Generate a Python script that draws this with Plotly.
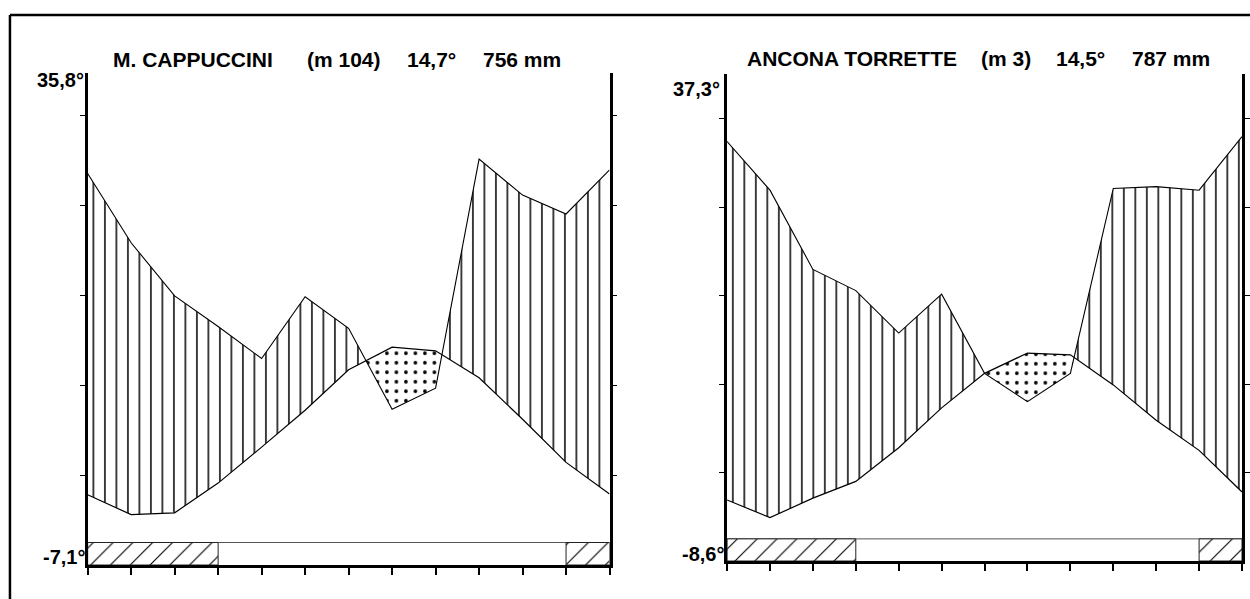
import plotly.graph_objects as go

W, H = 1250, 599

# ---- data (13 points: Jan ... Dec, Jan repeated) ----
month_pos = list(range(13))
temp_cappuccini = [7.8, 5.6, 5.8, 9.1, 13.1, 17.2, 21.7, 24.2, 23.8, 20.8, 16.2, 11.4, 7.9]
prec_cappuccini = [87.0, 71.6, 59.8, 53.0, 45.9, 59.6, 52.6, 34.6, 39.3, 90.2, 82.2, 78.0, 87.8]
temp_torrette = [6.9, 4.9, 7.1, 9.0, 12.8, 17.3, 21.2, 23.5, 23.3, 19.9, 15.9, 12.5, 7.8]
prec_torrette = [94.8, 83.8, 65.9, 61.1, 51.5, 60.3, 42.4, 36.0, 42.4, 84.2, 84.6, 83.8, 95.9]
frost_months = [0, 1, 2, 11]          # months with absolute minimum below 0
frost_band_height = 2.5
temp_ticks = [10, 20, 30, 40, 50]

titles = {
    "left": ["M. CAPPUCCINI", "(m 104)", "14,7°", "756 mm"],
    "right": ["ANCONA TORRETTE", "(m 3)", "14,5°", "787 mm"],
}
abs_max = {"left": "35,8°", "right": "37,3°"}
abs_min = {"left": "-7,1°", "right": "-8,6°"}


def split(x, t, p):
    xs, ts, ps = [x[0]], [t[0]], [p[0]]
    for i in range(len(x) - 1):
        d0 = p[i] - t[i]
        d1 = p[i + 1] - t[i + 1]
        if d0 * d1 < 0:
            f = d0 / (d0 - d1)
            xc = x[i] + f * (x[i + 1] - x[i])
            yc = t[i] + f * (t[i + 1] - t[i])
            xs.append(xc); ts.append(yc); ps.append(yc)
        xs.append(x[i + 1]); ts.append(t[i + 1]); ps.append(p[i + 1])
    return xs, ts, ps


def spans(months):
    out = []
    for m in sorted(months):
        if out and out[-1][1] == m:
            out[-1][1] = m + 1
        else:
            out.append([m, m + 1])
    return out


fig = go.Figure()
noline = dict(width=0, color="rgba(0,0,0,0)")


def add_panel(temp, prec, xa, ya):
    p2 = [v / 2 for v in prec]   # 10 °C = 20 mm
    xs, ts, ps = split(month_pos, temp, p2)
    upper = [max(a, b) for a, b in zip(ps, ts)]
    lower = [min(a, b) for a, b in zip(ps, ts)]
    common = dict(xaxis=xa, yaxis=ya, mode="lines", showlegend=False, hoverinfo="skip")
    # humid period: vertical hatching
    fig.add_trace(go.Scatter(x=xs, y=ts, line=noline, **common))
    fig.add_trace(go.Scatter(x=xs, y=upper, line=noline, fill="tonexty",
                             fillcolor="white",
                             fillpattern=dict(shape="|", size=11.5, solidity=0.13,
                                              fgcolor="black", bgcolor="white", fgopacity=1),
                             **common))
    # arid period: dots
    fig.add_trace(go.Scatter(x=xs, y=lower, line=noline, **common))
    fig.add_trace(go.Scatter(x=xs, y=ts, line=noline, fill="tonexty",
                             fillcolor="white",
                             fillpattern=dict(shape=".", size=9.5, solidity=0.12,
                                              fgcolor="black", bgcolor="white", fgopacity=1),
                             **common))
    # frost band
    fig.add_trace(go.Scatter(x=[0, 12], y=[frost_band_height] * 2,
                             line=dict(color="#555", width=1), **common))
    for a, b in spans(frost_months):
        fig.add_trace(go.Scatter(x=[a, b, b, a, a],
                                 y=[0, 0, frost_band_height, frost_band_height, 0],
                                 fill="toself", fillcolor="white",
                                 fillpattern=dict(shape="/", size=14, solidity=0.08,
                                                  fgcolor="black", bgcolor="white", fgopacity=1),
                                 line=dict(color="#222", width=1), **common))
    # curves
    fig.add_trace(go.Scatter(x=month_pos, y=p2, line=dict(color="black", width=1.1), **common))
    fig.add_trace(go.Scatter(x=month_pos, y=temp, line=dict(color="black", width=1.2), **common))


add_panel(temp_cappuccini, prec_cappuccini, "x", "y")
add_panel(temp_torrette, prec_torrette, "x2", "y2")

xcommon = dict(range=[0, 12], showline=True, linewidth=3, linecolor="black",
               ticks="outside", tickvals=month_pos, ticklen=7, tickwidth=1.5,
               tickcolor="black", showticklabels=False, showgrid=False, zeroline=False)
ycommon = dict(showline=True, linewidth=2.5, linecolor="black", mirror="ticks",
               ticks="outside", tickvals=temp_ticks, ticklen=5, tickwidth=1,
               tickcolor="black", showticklabels=False, showgrid=False, zeroline=False)

fig.update_layout(
    width=W, height=H,
    margin=dict(l=0, r=0, t=0, b=0),
    paper_bgcolor="white", plot_bgcolor="white",
    xaxis=dict(domain=[88 / W, 612 / W], anchor="y", **xcommon),
    yaxis=dict(domain=[1 - 565 / H, 1 - 73 / H], range=[0, (565 - 73) / 9.0], anchor="x", **ycommon),
    xaxis2=dict(domain=[730 / W, 1247 / W], anchor="y2", **xcommon),
    yaxis2=dict(domain=[1 - 561 / H, 1 - 74 / H], range=[0, (561 - 74) / 8.85], anchor="x2", **ycommon),
)

font_b = dict(family="Liberation Sans, Arial, sans-serif", size=21, color="black")
font_l = dict(family="Liberation Sans, Arial, sans-serif", size=20, color="black")


def ann(text, px, py, xanchor="left", font=font_b):
    fig.add_annotation(text="<b>%s</b>" % text, x=px / W, y=1 - py / H, xref="paper", yref="paper",
                       xanchor=xanchor, yanchor="middle", showarrow=False, font=font)


for t, px in zip(titles["left"], [111, 306, 407, 483]):
    ann(t, px, 59)
for t, px in zip(titles["right"], [748, 983, 1058, 1135]):
    ann(t, px, 58)
ann(abs_max["left"], 86, 80, "right", font_l)
ann(abs_max["right"], 725, 89, "right", font_l)
ann(abs_min["left"], 87, 557, "right", font_l)
ann(abs_min["right"], 729, 554, "right", font_l)

# outer frame (left and top edges visible)
fig.add_shape(type="line", xref="paper", yref="paper", x0=10 / W, x1=10 / W, y0=1 - 15 / H, y1=-0.1,
              line=dict(color="black", width=2.5))
fig.add_shape(type="line", xref="paper", yref="paper", x0=10 / W, x1=1.1, y0=1 - 15 / H, y1=1 - 15 / H,
              line=dict(color="black", width=2.5))

fig.write_html("out.html", config={"displayModeBar": False},
               post_script="document.body.style.margin='0';document.body.style.padding='0';")
